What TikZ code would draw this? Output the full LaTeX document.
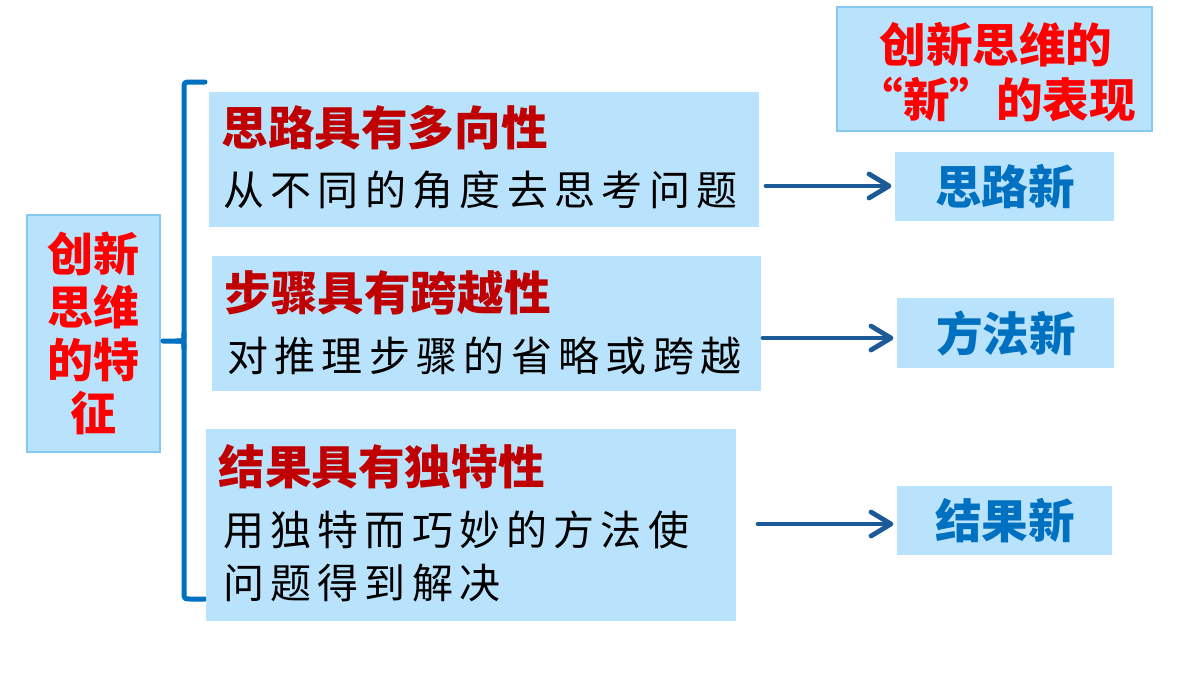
\documentclass[tikz,border=0pt]{standalone}
\usepackage{fontspec}
\setmainfont{Noto Sans CJK SC}
\usetikzlibrary{arrows.meta}
\definecolor{boxfill}{HTML}{B9E3FC}
\definecolor{boxline}{HTML}{86C8F0}
\definecolor{hred}{HTML}{C00000}
\definecolor{bred}{HTML}{FF0000}
\definecolor{bracec}{HTML}{0070C0}
\definecolor{arrowc}{HTML}{1B5A96}
\definecolor{rblue}{HTML}{0070C0}
\makeatletter
\newcommand{\cjkspread}[2]{\def\cjk@w{#1}\@tfor\cjk@c:=#2\do{\makebox[\cjk@w][l]{\cjk@c}}}
\makeatother
\newcommand{\hfont}{\fontsize{23.3}{28}\selectfont\bfseries}
\newcommand{\bfont}{\fontsize{20.5}{24}\selectfont}
\begin{document}
\begin{tikzpicture}[x=0.5pt,y=-0.5pt,
  panel/.style={fill=boxfill, draw=boxfill, line width=0.6pt, inner sep=0pt},
  framed/.style={fill=boxfill, draw=boxline, line width=0.6pt, inner sep=0pt},
  heading/.style={anchor=west, inner sep=0pt, text=hred, font=\hfont},
  bodytext/.style={anchor=west, inner sep=0pt, text=black, font=\bfont},
  newtext/.style={inner sep=0pt, text=rblue, font=\hfont},
  conn/.style={draw=arrowc, line width=2.4pt, line cap=round,
    -{Straight Barb[length=10pt, width=12pt, line width=2.4pt, round]}},
  bracestyle/.style={draw=bracec, line width=2.5pt, line cap=round, line join=round}]
\useasboundingbox (0,0) rectangle (1200,675);
\fill[white] (0,0) rectangle (1200,675);

% left box
\node[framed, minimum width=66.5pt, minimum height=118.5pt] (L) at (93.5,333.5) {};
\node[inner sep=0pt, text=bred, align=center,
  font=\fontsize{23}{26.5}\selectfont\bfseries] (Lt) at (93.5,333) {创新\\思维\\的特\\征};

% brace
\coordinate (bt) at (205,82);
\coordinate (bb) at (205,599);
\coordinate (btip) at (163,341);
\draw[bracestyle] (bt) -- (191,82) .. controls (184,82) .. (184,89) -- (184,592) .. controls (184,599) .. (191,599) -- (bb);
\draw[bracestyle] (btip) -- (176,341) .. controls (184,341) .. (184,333);
\draw[bracestyle] (176,341) .. controls (184,341) .. (184,349);

% box 1
\node[panel, minimum width=274pt, minimum height=66.5pt] (B1) at (484,159.5) {};
\node[heading] (H1) at (221,128) {思路具有多向性};
\node[bodytext] (T1) at (223,190) {\cjkspread{23.65pt}{从不同的角度去思考问题}};

% box 2
\node[panel, minimum width=273.5pt, minimum height=66.5pt] (B2) at (486.5,323.5) {};
\node[heading] (H2) at (224,293) {步骤具有跨越性};
\node[bodytext] (T2) at (227,356) {\cjkspread{23.65pt}{对推理步骤的省略或跨越}};

% box 3
\node[panel, minimum width=264pt, minimum height=95pt] (B3) at (471,525) {};
\node[heading] (H3) at (218,467) {结果具有独特性};
\node[bodytext] (T3a) at (223,530) {\cjkspread{23.6pt}{用独特而巧妙的方法使}};
\node[bodytext] (T3b) at (223,583) {\cjkspread{23.6pt}{问题得到解决}};

% top right box
\node[framed, minimum width=157.5pt, minimum height=62pt] (TR) at (994.5,69) {};
\node[anchor=west, inner sep=0pt, text=bred, font=\hfont] (TR1) at (879,45) {创新思维的};
\node[anchor=west, inner sep=0pt, text=bred, font=\hfont] (TR2) at (856,100) {“新”的表现};

% right boxes
\node[panel, minimum width=108.5pt, minimum height=33.5pt] (R1) at (1004.5,186.5) {};
\node[newtext] (R1t) at (1005,187) {思路新};
\node[panel, minimum width=107.5pt, minimum height=34pt] (R2) at (1005.5,333) {};
\node[newtext] (R2t) at (1006,334) {方法新};
\node[panel, minimum width=106.5pt, minimum height=33.5pt] (R3) at (1004.5,520.5) {};
\node[newtext] (R3t) at (1005,521) {结果新};

% arrows
\coordinate (a1) at (766,186);
\coordinate (a2) at (763,338);
\coordinate (a3) at (758,524);
\draw[conn, shorten >=2pt] (a1) -- (a1 -| R1.west);
\draw[conn, shorten >=2pt] (a2) -- (a2 -| R2.west);
\draw[conn, shorten >=2pt] (a3) -- (a3 -| R3.west);
\end{tikzpicture}
\end{document}
